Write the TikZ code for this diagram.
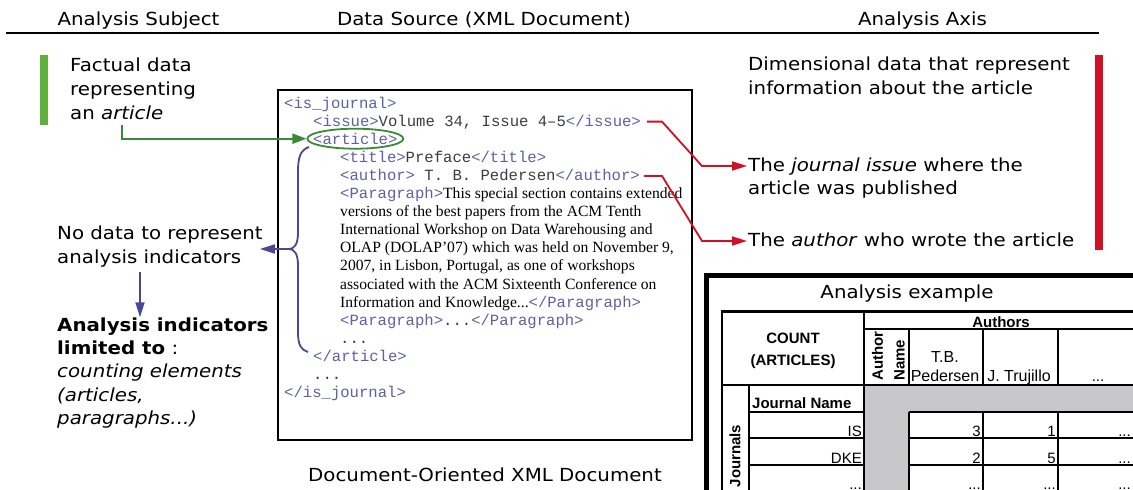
\documentclass[tikz,border=0pt]{standalone}
\usepackage{fontspec}
\setmainfont{DejaVu Sans}[FakeStretch=1.1]
\newfontfamily\tabfont{Liberation Sans}
\newfontfamily\xmlmono{Liberation Mono}
\newfontfamily\xmlserif{Liberation Serif}
\usetikzlibrary{arrows.meta,shapes.geometric,calc}
\frenchspacing

\definecolor{tagblue}{RGB}{95,95,165}
\definecolor{codegray}{RGB}{60,60,60}
\definecolor{braceblue}{RGB}{72,72,150}
\definecolor{arrowgreen}{RGB}{55,140,50}
\definecolor{bargreen}{RGB}{95,175,60}
\definecolor{axisred}{RGB}{208,16,36}
\definecolor{cellgray}{RGB}{200,200,202}

\newcommand\xtag[1]{\textcolor{tagblue}{#1}}
\newcommand\xtxt[1]{\textcolor{codegray}{#1}}

\tikzset{
  lbl/.style={inner sep=0pt, anchor=north west, align=left,
    font=\fontsize{18}{24}\selectfont},
  hdr/.style={inner sep=0pt, anchor=base, font=\fontsize{18}{24}\selectfont},
  xline/.style={inner sep=0pt, anchor=base west,
    font=\xmlmono\fontsize{15.6}{18}\selectfont},
  tcell/.style={inner sep=0pt, font=\tabfont\fontsize{15}{18}\selectfont},
  tname/.style={inner sep=0pt, font=\tabfont\fontsize{16}{18.7}\selectfont},
  tbold/.style={inner sep=0pt, font=\tabfont\bfseries\fontsize{15}{22}\selectfont},
  grid/.style={line width=2.4pt},
  greenarrow/.style={draw=arrowgreen, line width=2pt,
    -{Triangle[length=14pt,width=10pt]}},
  redarrow/.style={draw=axisred, line width=1.8pt,
    -{Triangle[length=15pt,width=9pt]}},
  bluearrow/.style={draw=braceblue, line width=1.8pt,
    -{Triangle[length=15pt,width=9pt]}},
  braceline/.style={draw=braceblue, line width=1.8pt},
}

\begin{document}
\begin{tikzpicture}[x=1pt,y=-1pt]
\useasboundingbox (0,0) rectangle (1133,490);
\clip (0,0) rectangle (1133,490);

% column headings and rule
\node[hdr] (hsubj) at (138.5,25) {Analysis Subject};
\node[hdr] (hsrc) at (484,25) {Data Source (XML Document)};
\node[hdr] (haxis) at (922.5,25) {Analysis Axis};
\draw[line width=2pt] (6,33) -- (1099,33);

% side bars
\fill[bargreen] (40,55) rectangle (48,125);
\fill[axisred] (1095,55) rectangle (1103,250);

% left column
\node[lbl] (fact) at (70,57.3) {Factual data\\representing\\an \emph{article}};
\node[lbl] (nodata) at (57,226) {No data to represent\\analysis indicators};
\node[lbl, font=\fontsize{18}{23.3}\selectfont] (indic) at (57,317.3)
  {\textbf{Analysis indicators}\\\textbf{limited to} :\\\emph{counting elements}\\\emph{(articles,}\\\emph{paragraphs...)}};

% right column
\node[lbl] (dim) at (748,56.3) {Dimensional data that represent\\information about the article};
\node[lbl, font=\fontsize{18}{23}\selectfont] (jissue) at (748,157.3)
  {The \emph{journal issue} where the\\article was published};
\node[lbl] (jauthor) at (748,232.3) {The \emph{author} who wrote the article};

% XML document
\node[draw, line width=2.2pt, minimum width=414pt, minimum height=350pt,
  inner sep=0pt] (xmlbox) at (485,265) {};
\node[xline] (x0) at (284,108.0) {\xtag{<is\_journal>}};
\node[xline] (issue) at (313,126.1) {\xtag{<issue>}\xtxt{Volume 34, Issue 4–5}\xtag{</issue>}};
\node[xline] (article) at (313,144.2) {\xtag{<article>}};
\node[xline] (x3) at (340,162.3) {\xtag{<title>}\xtxt{Preface}\xtag{</title>}};
\node[xline] (author) at (340,180.4) {\xtag{<author>}\xtxt{\ T. B. Pedersen}\xtag{</author>}};
\node[xline] (x5) at (340,198.5) {\xtag{<Paragraph>}{\xmlserif This special section contains extended}};
\node[xline, font=\xmlserif\fontsize{15.6}{18}\selectfont] (x6) at (340,216.6) {versions of the best papers from the ACM Tenth};
\node[xline, font=\xmlserif\fontsize{15.6}{18}\selectfont] (x7) at (340,234.7) {International Workshop on Data Warehousing and};
\node[xline, font=\xmlserif\fontsize{15.6}{18}\selectfont] (x8) at (340,252.8) {OLAP (DOLAP’07) which was held on November 9,};
\node[xline, font=\xmlserif\fontsize{15.6}{18}\selectfont] (x9) at (340,270.9) {2007, in Lisbon, Portugal, as one of workshops};
\node[xline, font=\xmlserif\fontsize{15.6}{18}\selectfont] (x10) at (340,289.0) {associated with the ACM Sixteenth Conference on};
\node[xline] (x11) at (340,307.1) {{\xmlserif Information and Knowledge...}\xtag{</Paragraph>}};
\node[xline] (x12) at (340,325.2) {\xtag{<Paragraph>}\xtxt{...}\xtag{</Paragraph>}};
\node[xline] (x13) at (340,343.3) {\xtxt{...}};
\node[xline] (x14) at (313,361.4) {\xtag{</article>}};
\node[xline] (x15) at (313,379.5) {\xtxt{...}};
\node[xline] (x16) at (284,397.6) {\xtag{</is\_journal>}};
\node[hdr] (doctitle) at (485,481.5) {Document-Oriented XML Document};

% ring round the article element and the factual-data arrow
\node[draw=arrowgreen, ellipse, line width=1.8pt, minimum width=96pt,
  minimum height=20pt, inner sep=0pt] (ring) at ($(article.base)+(0,-5.5)$) {};
\coordinate (gsrc) at (122,125);
\draw[greenarrow] (gsrc) |- (ring.west);

% brace over the article content
\coordinate (btop) at (309,147);
\coordinate (bmid) at (288,249);
\coordinate (bbot) at (308,352);
\draw[braceline] (btop) .. controls (300,150) and (298,158) .. (298,172)
  -- (298,232) .. controls (298,244) and (295,249) .. (bmid)
  .. controls (295,249) and (298,254) .. (298,266)
  -- (298,332) .. controls (298,345) and (301,350) .. (bbot);
\draw[bluearrow] (bmid) -- ($(bmid -| nodata.east)+(-3,0)$);
\draw[bluearrow] ($(nodata.south west)+(83,4)$) -- ($(indic.north west)+(83,0)$);

% dimension arrows
\coordinate (k1) at (662,0);
\coordinate (k2) at (702,0);
\coordinate (is0) at ($(issue.base east)+(6,-4.5)$);
\coordinate (is1) at ($(jissue.north west)+(-1,8.7)$);
\draw[redarrow] (is0) -- (is0 -| k1) -- (is1 -| k2) -- (is1);
\coordinate (au0) at ($(author.base east)+(4,-4.5)$);
\coordinate (au1) at ($(jauthor.north west)+(-1,8.7)$);
\draw[redarrow] (au0) -- (au0 -| k1) -- (au1 -| k2) -- (au1);

% analysis example
\node[hdr] (extitle) at (907,298) {Analysis example};
\fill[cellgray] (864,385) rectangle (1140,412);
\fill[cellgray] (864,385) rectangle (909,495);
\draw[line width=4.5pt] (1140,275.5) -- (706.5,275.5) -- (706.5,495);
\draw[grid] (1140,311.5) -- (722,311.5) -- (722,495);
\draw[grid] (864,311.5) -- (864,495);
\draw[grid] (864,329) -- (1140,329);
\draw[grid] (722,385) -- (1140,385);
\foreach \cx in {909,983,1058} \draw[grid] (\cx,329) -- (\cx,385);
\draw[grid] (749,385) -- (749,495);
\foreach \ry in {412,438,465} {
  \draw[grid] (749,\ry) -- (864,\ry);
  \draw[grid] (909,\ry) -- (1140,\ry);
}
\foreach \cx in {909,983,1058} \draw[grid] (\cx,412) -- (\cx,495);

\node[tbold, align=center, anchor=north] (count) at (793,333) {COUNT\\(ARTICLES)};
\node[tbold, anchor=base] (authors) at (1001,327) {Authors};
\node[tbold, rotate=90, anchor=west] (aname1) at (877.5,381) {Author};
\node[tbold, rotate=90, anchor=west] (aname2) at (899.5,381) {Name};
\node[tname, align=center, anchor=south] (tbp) at (945,381.7) {T.B.\\Pedersen};
\node[tname, anchor=base] (jtr) at (1019,381.7) {J. Trujillo};
\node[tcell, anchor=base] (hdots) at (1098,381) {...};
\node[tbold, rotate=90] (jnls) at (735,456) {Journals};
\node[tbold, anchor=base west] (jname) at (752,408) {Journal Name};
\node[tcell, anchor=base east] (rIS) at (862,436.7) {IS};
\node[tcell, anchor=base east] (rDKE) at (862,463.3) {DKE};
\node[tcell, anchor=base east] (rdots) at (862,489) {...};
\node[tcell, anchor=base east] (c11) at (981,436.7) {3};
\node[tcell, anchor=base east] (c12) at (1056,436.7) {1};
\node[tcell, anchor=base east] (c13) at (1131,436.7) {...};
\node[tcell, anchor=base east] (c21) at (981,463.3) {2};
\node[tcell, anchor=base east] (c22) at (1056,463.3) {5};
\node[tcell, anchor=base east] (c23) at (1131,463.3) {...};
\node[tcell, anchor=base east] (c31) at (981,489) {...};
\node[tcell, anchor=base east] (c32) at (1056,489) {...};
\node[tcell, anchor=base east] (c33) at (1131,489) {...};
\end{tikzpicture}
\end{document}
